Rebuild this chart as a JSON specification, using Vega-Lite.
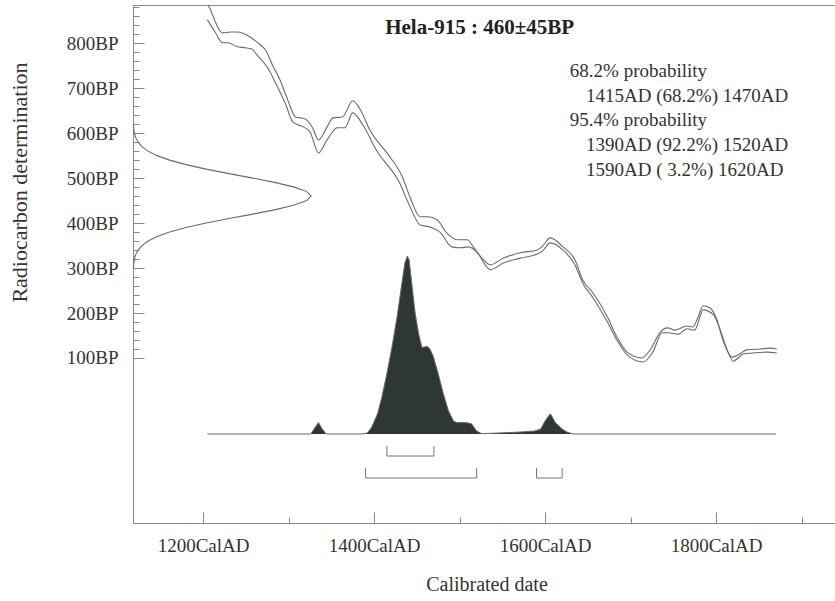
{
  "$schema": "https://vega.github.io/schema/vega-lite/v6.json",
  "width": 707,
  "height": 518,
  "autosize": {"type": "none"},
  "padding": {"left": 133, "top": 5, "right": 0, "bottom": 78},
  "background": "white",
  "config": {
    "view": {"stroke": "#8a8a8a", "strokeWidth": 1},
    "font": "Liberation Serif",
    "text": {"font": "Liberation Serif"}
  },
  "datasets": {
    "curve": [
      {"band": "upper", "year": 1200, "bp": 905}, {"band": "upper", "year": 1206, "bp": 885}, {"band": "upper", "year": 1223, "bp": 823}, {"band": "upper", "year": 1232, "bp": 825}, {"band": "upper", "year": 1240, "bp": 825}, {"band": "upper", "year": 1255, "bp": 814}, {"band": "upper", "year": 1267, "bp": 796}, {"band": "upper", "year": 1273, "bp": 785}, {"band": "upper", "year": 1281, "bp": 752}, {"band": "upper", "year": 1290, "bp": 718}, {"band": "upper", "year": 1299, "bp": 674}, {"band": "upper", "year": 1308, "bp": 636}, {"band": "upper", "year": 1319, "bp": 632}, {"band": "upper", "year": 1328, "bp": 612}, {"band": "upper", "year": 1335, "bp": 585}, {"band": "upper", "year": 1345, "bp": 614}, {"band": "upper", "year": 1352, "bp": 634}, {"band": "upper", "year": 1363, "bp": 636}, {"band": "upper", "year": 1375, "bp": 672}, {"band": "upper", "year": 1384, "bp": 652}, {"band": "upper", "year": 1395, "bp": 607}, {"band": "upper", "year": 1415, "bp": 556}, {"band": "upper", "year": 1433, "bp": 503}, {"band": "upper", "year": 1442, "bp": 458}, {"band": "upper", "year": 1454, "bp": 414}, {"band": "upper", "year": 1463, "bp": 414}, {"band": "upper", "year": 1474, "bp": 407}, {"band": "upper", "year": 1485, "bp": 378}, {"band": "upper", "year": 1497, "bp": 363}, {"band": "upper", "year": 1509, "bp": 363}, {"band": "upper", "year": 1516, "bp": 347}, {"band": "upper", "year": 1528, "bp": 318}, {"band": "upper", "year": 1536, "bp": 307}, {"band": "upper", "year": 1551, "bp": 322}, {"band": "upper", "year": 1571, "bp": 334}, {"band": "upper", "year": 1591, "bp": 340}, {"band": "upper", "year": 1598, "bp": 351}, {"band": "upper", "year": 1606, "bp": 367}, {"band": "upper", "year": 1621, "bp": 347}, {"band": "upper", "year": 1635, "bp": 318}, {"band": "upper", "year": 1644, "bp": 274}, {"band": "upper", "year": 1656, "bp": 245}, {"band": "upper", "year": 1673, "bp": 191}, {"band": "upper", "year": 1684, "bp": 147}, {"band": "upper", "year": 1696, "bp": 113}, {"band": "upper", "year": 1713, "bp": 100}, {"band": "upper", "year": 1723, "bp": 118}, {"band": "upper", "year": 1735, "bp": 158}, {"band": "upper", "year": 1743, "bp": 167}, {"band": "upper", "year": 1752, "bp": 162}, {"band": "upper", "year": 1766, "bp": 171}, {"band": "upper", "year": 1773, "bp": 169}, {"band": "upper", "year": 1779, "bp": 191}, {"band": "upper", "year": 1785, "bp": 216}, {"band": "upper", "year": 1793, "bp": 211}, {"band": "upper", "year": 1801, "bp": 185}, {"band": "upper", "year": 1808, "bp": 140}, {"band": "upper", "year": 1819, "bp": 102}, {"band": "upper", "year": 1826, "bp": 107}, {"band": "upper", "year": 1836, "bp": 118}, {"band": "upper", "year": 1852, "bp": 120}, {"band": "upper", "year": 1863, "bp": 122}, {"band": "upper", "year": 1871, "bp": 120},
      {"band": "lower", "year": 1205, "bp": 852}, {"band": "lower", "year": 1214, "bp": 825}, {"band": "lower", "year": 1223, "bp": 801}, {"band": "lower", "year": 1229, "bp": 801}, {"band": "lower", "year": 1240, "bp": 792}, {"band": "lower", "year": 1249, "bp": 790}, {"band": "lower", "year": 1257, "bp": 787}, {"band": "lower", "year": 1263, "bp": 774}, {"band": "lower", "year": 1275, "bp": 747}, {"band": "lower", "year": 1287, "bp": 703}, {"band": "lower", "year": 1296, "bp": 667}, {"band": "lower", "year": 1305, "bp": 625}, {"band": "lower", "year": 1317, "bp": 614}, {"band": "lower", "year": 1325, "bp": 603}, {"band": "lower", "year": 1335, "bp": 556}, {"band": "lower", "year": 1345, "bp": 585}, {"band": "lower", "year": 1357, "bp": 612}, {"band": "lower", "year": 1366, "bp": 612}, {"band": "lower", "year": 1375, "bp": 645}, {"band": "lower", "year": 1387, "bp": 618}, {"band": "lower", "year": 1404, "bp": 558}, {"band": "lower", "year": 1411, "bp": 540}, {"band": "lower", "year": 1430, "bp": 489}, {"band": "lower", "year": 1440, "bp": 445}, {"band": "lower", "year": 1454, "bp": 396}, {"band": "lower", "year": 1466, "bp": 391}, {"band": "lower", "year": 1477, "bp": 380}, {"band": "lower", "year": 1491, "bp": 347}, {"band": "lower", "year": 1501, "bp": 345}, {"band": "lower", "year": 1510, "bp": 347}, {"band": "lower", "year": 1521, "bp": 334}, {"band": "lower", "year": 1532, "bp": 302}, {"band": "lower", "year": 1536, "bp": 296}, {"band": "lower", "year": 1551, "bp": 311}, {"band": "lower", "year": 1571, "bp": 322}, {"band": "lower", "year": 1591, "bp": 331}, {"band": "lower", "year": 1598, "bp": 340}, {"band": "lower", "year": 1606, "bp": 356}, {"band": "lower", "year": 1621, "bp": 340}, {"band": "lower", "year": 1635, "bp": 307}, {"band": "lower", "year": 1644, "bp": 267}, {"band": "lower", "year": 1656, "bp": 234}, {"band": "lower", "year": 1673, "bp": 180}, {"band": "lower", "year": 1684, "bp": 140}, {"band": "lower", "year": 1696, "bp": 107}, {"band": "lower", "year": 1715, "bp": 91}, {"band": "lower", "year": 1726, "bp": 113}, {"band": "lower", "year": 1737, "bp": 156}, {"band": "lower", "year": 1744, "bp": 156}, {"band": "lower", "year": 1756, "bp": 153}, {"band": "lower", "year": 1766, "bp": 165}, {"band": "lower", "year": 1775, "bp": 162}, {"band": "lower", "year": 1785, "bp": 207}, {"band": "lower", "year": 1797, "bp": 196}, {"band": "lower", "year": 1805, "bp": 162}, {"band": "lower", "year": 1813, "bp": 118}, {"band": "lower", "year": 1820, "bp": 93}, {"band": "lower", "year": 1832, "bp": 109}, {"band": "lower", "year": 1843, "bp": 111}, {"band": "lower", "year": 1860, "bp": 113}, {"band": "lower", "year": 1871, "bp": 111}
    ],
    "measurement": [
      {"bp": 300, "density": 0.002}, {"bp": 310, "density": 0.004}, {"bp": 320, "density": 0.008}, {"bp": 330, "density": 0.015}, {"bp": 340, "density": 0.029}, {"bp": 350, "density": 0.05}, {"bp": 360, "density": 0.085}, {"bp": 370, "density": 0.135}, {"bp": 380, "density": 0.206}, {"bp": 390, "density": 0.298}, {"bp": 400, "density": 0.411}, {"bp": 410, "density": 0.539}, {"bp": 420, "density": 0.674}, {"bp": 430, "density": 0.801}, {"bp": 440, "density": 0.906}, {"bp": 450, "density": 0.976}, {"bp": 460, "density": 1.0}, {"bp": 470, "density": 0.976}, {"bp": 480, "density": 0.906}, {"bp": 490, "density": 0.801}, {"bp": 500, "density": 0.674}, {"bp": 510, "density": 0.539}, {"bp": 520, "density": 0.411}, {"bp": 530, "density": 0.298}, {"bp": 540, "density": 0.206}, {"bp": 550, "density": 0.135}, {"bp": 560, "density": 0.085}, {"bp": 570, "density": 0.05}, {"bp": 580, "density": 0.029}, {"bp": 590, "density": 0.015}, {"bp": 600, "density": 0.008}, {"bp": 610, "density": 0.004}, {"bp": 620, "density": 0.002}
    ],
    "calibrated": [
      {"year": 1205, "prob": 0}, {"year": 1320, "prob": 0}, {"year": 1326, "prob": 0}, {"year": 1330, "prob": 0.03}, {"year": 1335, "prob": 0.064}, {"year": 1339, "prob": 0.03}, {"year": 1344, "prob": 0}, {"year": 1386, "prob": 0}, {"year": 1392, "prob": 0.005}, {"year": 1397, "prob": 0.036}, {"year": 1404, "prob": 0.113}, {"year": 1409, "prob": 0.205}, {"year": 1415, "prob": 0.339}, {"year": 1421, "prob": 0.49}, {"year": 1427, "prob": 0.66}, {"year": 1432, "prob": 0.83}, {"year": 1436, "prob": 0.96}, {"year": 1439, "prob": 1.0}, {"year": 1441, "prob": 0.977}, {"year": 1444, "prob": 0.85}, {"year": 1448, "prob": 0.68}, {"year": 1452, "prob": 0.565}, {"year": 1456, "prob": 0.486}, {"year": 1462, "prob": 0.492}, {"year": 1465, "prob": 0.48}, {"year": 1469, "prob": 0.44}, {"year": 1475, "prob": 0.339}, {"year": 1481, "prob": 0.226}, {"year": 1487, "prob": 0.13}, {"year": 1493, "prob": 0.072}, {"year": 1497, "prob": 0.064}, {"year": 1508, "prob": 0.064}, {"year": 1514, "prob": 0.057}, {"year": 1520, "prob": 0.017}, {"year": 1526, "prob": 0.002}, {"year": 1547, "prob": 0.006}, {"year": 1571, "prob": 0.011}, {"year": 1588, "prob": 0.017}, {"year": 1595, "prob": 0.028}, {"year": 1600, "prob": 0.073}, {"year": 1604, "prob": 0.1}, {"year": 1606, "prob": 0.113}, {"year": 1608, "prob": 0.1}, {"year": 1612, "prob": 0.064}, {"year": 1620, "prob": 0.028}, {"year": 1626, "prob": 0.01}, {"year": 1633, "prob": 0}, {"year": 1870, "prob": 0}
    ],
    "ranges": [
      {"level": 68.2, "from": 1415, "to": 1470, "pct": 68.2},
      {"level": 95.4, "from": 1390, "to": 1520, "pct": 92.2},
      {"level": 95.4, "from": 1590, "to": 1620, "pct": 3.2}
    ],
    "notes": [
      {"line": 1, "kind": "heading", "text": "68.2% probability"},
      {"line": 2, "kind": "range", "text": "1415AD (68.2%) 1470AD"},
      {"line": 3, "kind": "heading", "text": "95.4% probability"},
      {"line": 4, "kind": "range", "text": "1390AD (92.2%) 1520AD"},
      {"line": 5, "kind": "range", "text": "1590AD ( 3.2%) 1620AD"}
    ]
  },
  "layer": [
    {
      "layer": [
        {
          "data": {"name": "curve"},
          "mark": {"type": "line", "color": "#6a6a6a", "strokeWidth": 1.1, "clip": true, "interpolate": "monotone"},
          "encoding": {
            "x": {
              "field": "year", "type": "quantitative",
              "scale": {"domain": [1118, 1945], "nice": false, "zero": false},
              "axis": {
                "values": [1200, 1400, 1600, 1800],
                "labelExpr": "datum.value + 'CalAD'",
                "tickSize": -11,
                "tickColor": "#888", "tickWidth": 1,
                "domainColor": "#888", "domainWidth": 1,
                "labelFont": "Liberation Serif", "labelFontSize": 19, "labelColor": "#333",
                "labelPadding": 24, "labelBaseline": "top",
                "labelFlush": false, "labelOverlap": false,
                "grid": false,
                "title": "Calibrated date", "titleFont": "Liberation Serif", "titleFontSize": 20,
                "titleFontWeight": "normal", "titleColor": "#333",
                "titleY": 51, "titleBaseline": "top"
              }
            },
            "y": {
              "field": "bp", "type": "quantitative",
              "scale": {"domain": [-267, 885], "nice": false, "zero": false},
              "axis": {
                "values": [100, 200, 300, 400, 500, 600, 700, 800],
                "labelExpr": "datum.value + 'BP'",
                "tickSize": -11,
                "tickColor": "#888", "tickWidth": 1,
                "domainColor": "#888", "domainWidth": 1,
                "labelFont": "Liberation Serif", "labelFontSize": 19, "labelColor": "#333",
                "labelPadding": 26, "labelFlush": false, "labelOverlap": false,
                "grid": false,
                "title": "Radiocarbon determination", "titleFont": "Liberation Serif", "titleFontSize": 22,
                "titleFontWeight": "normal", "titleColor": "#333",
                "titleAnchor": "end", "titleAlign": "right", "titleAngle": -90,
                "titleBaseline": "alphabetic", "titleX": -107, "titleY": 57
              }
            },
            "detail": {"field": "band"}
          }
        },
        {
          "data": {"values": [{"label": "Hela-915 : 460±45BP"}]},
          "mark": {"type": "text", "font": "Liberation Serif", "fontSize": 21, "fontWeight": "bold", "align": "left", "baseline": "alphabetic", "color": "#222"},
          "encoding": {
            "x": {"datum": 1413, "type": "quantitative"},
            "y": {"datum": 820, "type": "quantitative"},
            "text": {"field": "label"}
          }
        }
      ]
    },
    {
      "data": {"name": "measurement"},
      "mark": {"type": "line", "color": "#6a6a6a", "strokeWidth": 1.1},
      "encoding": {
        "x": {"field": "density", "type": "quantitative", "scale": {"domain": [0, 3.97], "nice": false, "zero": false}, "axis": null},
        "y": {
          "field": "bp", "type": "quantitative",
          "scale": {"domain": [-267, 885], "nice": false, "zero": false},
          "axis": {
            "orient": "left",
            "values": [120, 140, 160, 180, 220, 240, 260, 280, 320, 340, 360, 380, 420, 440, 460, 480, 520, 540, 560, 580, 620, 640, 660, 680, 720, 740, 760, 780, 820, 840, 860, 880],
            "labels": false, "domain": false, "grid": false, "title": null,
            "tickSize": -6, "tickColor": "#888", "tickWidth": 1
          }
        },
        "order": {"field": "bp"}
      }
    },
    {
      "data": {"name": "calibrated"},
      "mark": {"type": "area", "color": "#2e3735", "opacity": 1, "fillOpacity": 1, "line": {"color": "#6a6a6a", "strokeWidth": 1}},
      "encoding": {
        "x": {
          "field": "year", "type": "quantitative",
          "scale": {"domain": [1118, 1945], "nice": false, "zero": false},
          "axis": {
            "orient": "bottom",
            "values": [1300, 1500, 1700, 1900],
            "labels": false, "domain": false, "grid": false, "title": null,
            "tickSize": -6, "tickColor": "#888", "tickWidth": 1
          }
        },
        "y": {"field": "prob", "type": "quantitative", "scale": {"domain": [-0.5, 2.41], "nice": false}, "axis": null}
      }
    },
    {
      "data": {"name": "ranges"},
      "layer": [
        {
          "mark": {"type": "rule", "color": "#777", "strokeWidth": 1},
          "encoding": {
            "x": {"field": "from", "type": "quantitative", "scale": {"domain": [1118, 1945], "nice": false, "zero": false}, "axis": null},
            "x2": {"field": "to"},
            "y": {"field": "level", "type": "quantitative", "scale": {"domain": [-489.4, 151], "nice": false, "zero": false, "reverse": true}, "axis": null}
          }
        },
        {
          "mark": {"type": "rule", "color": "#777", "strokeWidth": 1, "yOffset": -10},
          "encoding": {
            "x": {"field": "from", "type": "quantitative"},
            "y": {"field": "level", "type": "quantitative"},
            "y2": {"field": "level"}
          }
        },
        {
          "mark": {"type": "rule", "color": "#777", "strokeWidth": 1, "yOffset": -10},
          "encoding": {
            "x": {"field": "to", "type": "quantitative"},
            "y": {"field": "level", "type": "quantitative"},
            "y2": {"field": "level"}
          }
        }
      ]
    },
    {
      "data": {"name": "notes"},
      "transform": [{"filter": "datum.kind === 'heading'"}],
      "mark": {"type": "text", "font": "Liberation Serif", "fontSize": 19, "align": "left", "baseline": "alphabetic", "color": "#333"},
      "encoding": {
        "x": {"datum": 1629, "type": "quantitative", "scale": {"domain": [1118, 1945], "nice": false, "zero": false}, "axis": null},
        "y": {"field": "line", "type": "quantitative", "scale": {"domain": [-1.915, 19.057], "nice": false, "zero": false, "reverse": true}, "axis": null},
        "text": {"field": "text"}
      }
    },
    {
      "data": {"name": "notes"},
      "transform": [{"filter": "datum.kind === 'range'"}],
      "mark": {"type": "text", "font": "Liberation Serif", "fontSize": 19, "align": "left", "baseline": "alphabetic", "color": "#333"},
      "encoding": {
        "x": {"datum": 1648, "type": "quantitative", "scale": {"domain": [1118, 1945], "nice": false, "zero": false}, "axis": null},
        "y": {"field": "line", "type": "quantitative", "scale": {"domain": [-1.915, 19.057], "nice": false, "zero": false, "reverse": true}, "axis": null},
        "text": {"field": "text"}
      }
    }
  ],
  "resolve": {"scale": {"x": "independent", "y": "independent"}}
}
